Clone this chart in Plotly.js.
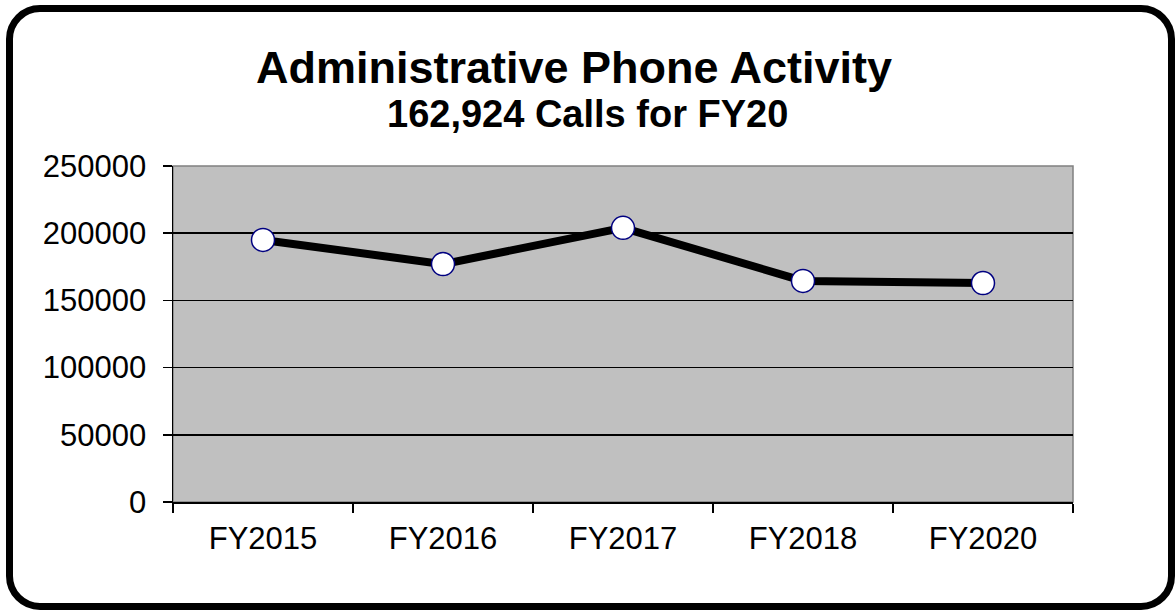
<!DOCTYPE html>
<html>
<head>
<meta charset="utf-8">
<script src="https://cdn.plot.ly/plotly-3.0.1.min.js"></script>
<style>
  html, body { margin:0; padding:0; background:#ffffff; }
  #frame { position:absolute; left:6px; top:5px; width:1169px; height:605px; box-sizing:border-box;
           border:7px solid #000; border-radius:34px; background:#fff; }
  #chart { position:absolute; left:0; top:0; width:1176px; height:611px; }
</style>
</head>
<body>
<div id="frame"></div>
<div id="chart"></div>
<script>
const categories = ["FY2015", "FY2016", "FY2017", "FY2018", "FY2020"];
const calls = [195000, 177000, 204000, 164500, 162924];
const yTickValues = [0, 50000, 100000, 150000, 200000, 250000];
const yTickLabels = ["0", "50000", "100000", "150000", "200000", "250000"];
const titleText = "Administrative Phone Activity";
const subtitleText = "162,924 Calls for FY20";

const trace = {
  x: categories,
  y: calls,
  type: "scatter",
  mode: "lines+markers",
  line: { color: "#000000", width: 8 },
  marker: { symbol: "circle", size: 23, color: "#ffffff", line: { color: "#000080", width: 1.5 } },
  hoverinfo: "x+y"
};

const layout = {
  width: 1176,
  height: 611,
  margin: { l: 173, r: 103, t: 166, b: 109, pad: 0 },
  paper_bgcolor: "rgba(0,0,0,0)",
  plot_bgcolor: "#c0c0c0",
  showlegend: false,
  font: { family: "Liberation Sans, Arial, sans-serif", color: "#000" },
  xaxis: {
    type: "category",
    tickson: "boundaries",
    ticks: "outside",
    ticklen: 9,
    tickwidth: 1.5,
    tickcolor: "#000",
    showline: true,
    linecolor: "#000",
    linewidth: 1.5,
    showgrid: false,
    zeroline: false,
    tickfont: { size: 31, color: "#000" },
    ticklabelstandoff: 8,
    range: [-0.5, 4.5],
    fixedrange: true
  },
  yaxis: {
    range: [0, 250000],
    tickvals: yTickValues,
    ticktext: yTickLabels,
    ticks: "outside",
    ticklen: 9,
    tickwidth: 1.5,
    tickcolor: "#000",
    showline: true,
    linecolor: "#000",
    linewidth: 1.5,
    showgrid: true,
    gridcolor: "#000",
    gridwidth: 1.5,
    zeroline: false,
    tickfont: { size: 31, color: "#000" },
    ticklabelstandoff: 10,
    fixedrange: true
  },
  shapes: [
    { type: "rect", xref: "paper", yref: "paper", x0: 0, x1: 1, y0: 0, y1: 1,
      line: { color: "#808080", width: 1.5 }, fillcolor: "rgba(0,0,0,0)", layer: "below" }
  ],
  annotations: [
    { text: "<b>" + titleText + "</b>", xref: "paper", yref: "paper", x: 0.4456, y: 1.292,
      xanchor: "center", yanchor: "middle", showarrow: false,
      font: { size: 45, color: "#000", family: "Liberation Sans, Arial, sans-serif" } },
    { text: "<b>" + subtitleText + "</b>", xref: "paper", yref: "paper", x: 0.46, y: 1.155,
      xanchor: "center", yanchor: "middle", showarrow: false,
      font: { size: 38, color: "#000", family: "Liberation Sans, Arial, sans-serif" } }
  ]
};

Plotly.newPlot("chart", [trace], layout, { displayModeBar: false, staticPlot: true });
</script>
</body>
</html>
